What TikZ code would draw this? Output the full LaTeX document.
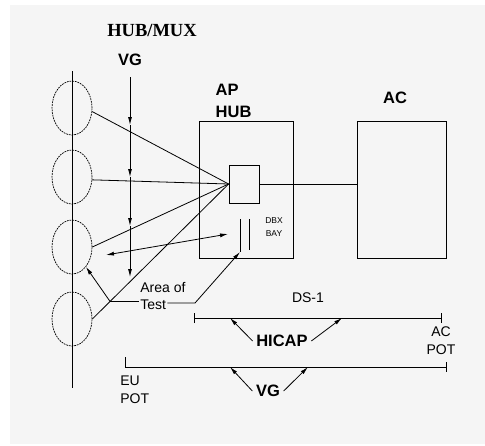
\documentclass[tikz,border=0pt]{standalone}
\usepackage{fontspec}
\setmainfont{Liberation Sans}
\newfontfamily\serifbold{Liberation Serif}
\usetikzlibrary{arrows.meta,shapes.geometric}

\begin{document}
\begin{tikzpicture}[x=1pt,y=-1pt,line width=0.8pt,
  arr/.style={-{Latex[length=8pt,width=4pt]}},
  dblarr/.style={{Latex[length=8pt,width=4pt]}-{Latex[length=8pt,width=4pt]}},
  big/.style={font=\bfseries\fontsize{16.5}{22}\selectfont},
  txt/.style={font=\fontsize{14}{18}\selectfont},
  subloop/.style={draw,ellipse,line width=0.7pt,dash pattern=on 1.8pt off 0.9pt,
    minimum width=40pt,minimum height=54pt,inner sep=0pt},
  unitbox/.style={draw,rectangle,inner sep=0pt}]
  \useasboundingbox (0,0) rectangle (485,445);
  \fill[black!4] (10,5) rectangle (485,444);

  % titles
  \node[font=\serifbold\bfseries\fontsize{18.5}{22}\selectfont] (hubmux) at (152,30) {HUB/MUX};
  \node[big] (vgtop) at (130,60) {VG};
  \node[big,align=left,anchor=west] (aplbl) at (212,101) {AP\\HUB};
  \node[big] (aclbl) at (395,98) {AC};

  % bus and loops
  \coordinate (bt) at (72,71);
  \coordinate (bb) at (72,388);
  \draw (bt) -- (bb);
  \foreach \y [count=\i] in {108,177,247,319}
    \node[subloop] (e\i) at (72,\y) {};

  % VG down the mux
  \foreach \ya/\yb in {77/125,125/177,177/226,226/277}
    \draw[arr] (vgtop.south |- 0,\ya) -- (vgtop.south |- 0,\yb);

  % hub and ac
  \node[unitbox,minimum width=94pt,minimum height=137pt] (aphub) at (246,189.5) {};
  \node[unitbox,minimum width=30pt,minimum height=38pt] (sbox) at (244,184) {};
  \node[unitbox,minimum width=89pt,minimum height=137pt] (acbox) at (401.5,189.5) {};
  \draw (sbox.east) -- (sbox.east -| acbox.west);

  % bay
  \coordinate (b1t) at (240,219);
  \coordinate (b1b) at (240,252);
  \coordinate (b2t) at (249,219);
  \coordinate (b2b) at (249,250);
  \draw (b1t) -- (b1b);
  \draw (b2t) -- (b2b);
  \node[font=\fontsize{8.5}{13}\selectfont,align=center] (dbx) at (274,227) {DBX\\BAY};

  % loops to hub
  \draw (e1.-10) -- (sbox.west);
  \draw (e2.-8) -- (sbox.west);
  \draw (e3.east) -- (sbox.west);
  \draw (e4.east) -- coordinate[pos=0.13] (jn) (sbox.west);
  \coordinate (dl) at (106,255);
  \coordinate (dr) at (228,234);
  \draw[dblarr] (dl) -- (dr);

  % area of test
  \node[txt,anchor=west,inner sep=1pt] (areaof) at (139,287) {Area of};
  \node[txt,anchor=west,inner sep=1pt] (test) at (139,305) {Test};
  \coordinate (tk) at (195,303);
  \draw[arr] (jn) -- (e3.-55);
  \draw (jn) -- (jn -| test.west);
  \draw[arr] (test.east |- tk) -- (tk) -- (b1b);

  % hicap span
  \node[txt] (ds1) at (308,298) {DS-1};
  \coordinate (h0) at (194,318);
  \coordinate (h1) at (442,318);
  \draw[{Bar[width=10pt]}-{Bar[width=10pt]}] (h0) -- (h1);
  \node[txt,align=center] (acpot) at (441,341) {AC\\POT};
  \node[big] (hicap) at (282,341) {HICAP};
  \coordinate (ha) at (230,318);
  \coordinate (hb) at (342,318);
  \draw[arr] (hicap.west) -- (ha);
  \draw[arr] (hicap.east) -- (hb);

  % vg span
  \coordinate (v0) at (125,367);
  \coordinate (v1) at (447,367);
  \draw[-{Bar[width=10pt]}] (v0) -- (v1);
  \draw (v0) -- ++(0,-10);
  \node[txt,align=left,anchor=west,inner sep=0pt] (eupot) at (120,390) {EU\\POT};
  \node[big] (vgbot) at (268,391) {VG};
  \coordinate (va) at (230,367);
  \coordinate (vb) at (308,367);
  \draw[arr] (vgbot.west) -- (va);
  \draw[arr] (vgbot.east) -- (vb);
\end{tikzpicture}
\end{document}
